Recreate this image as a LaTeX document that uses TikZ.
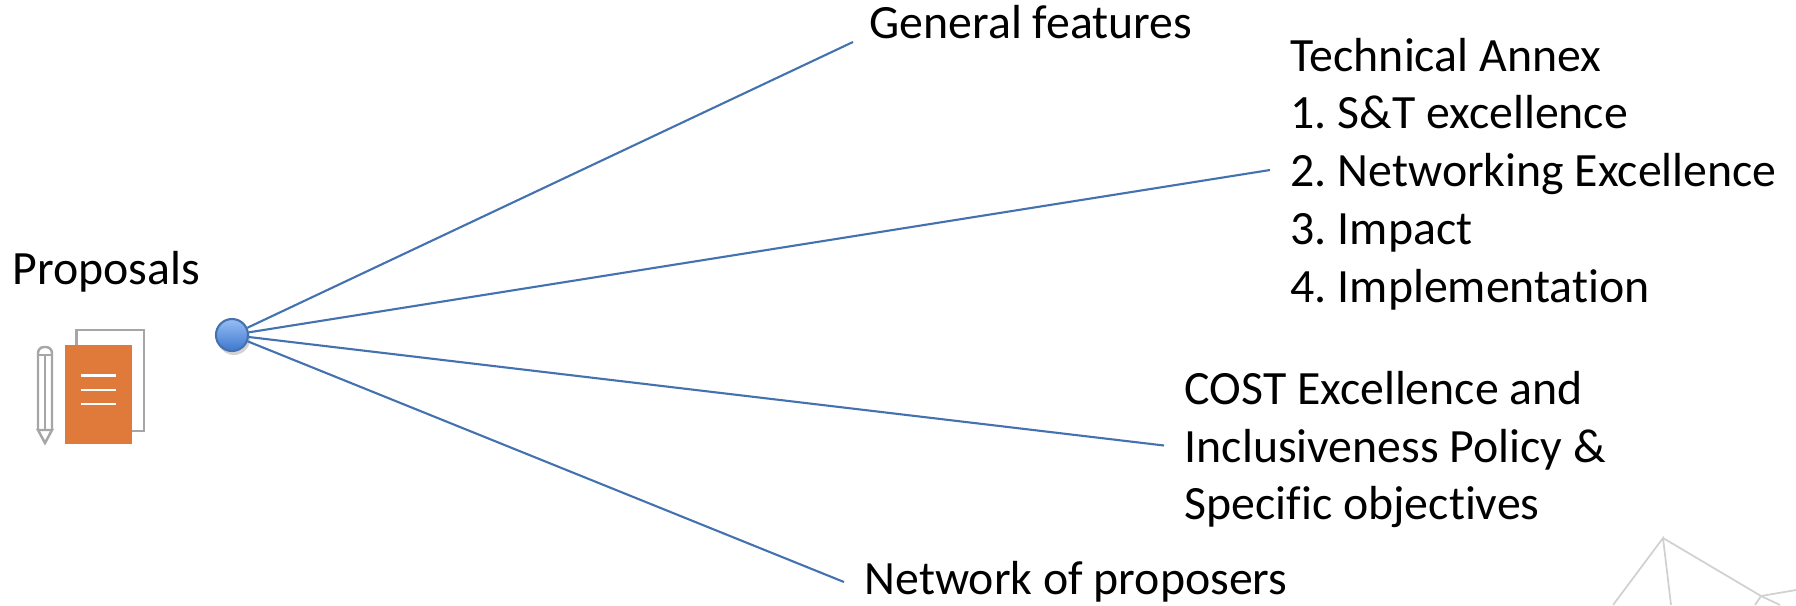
\documentclass[tikz,border=0pt]{standalone}
\usepackage{fontspec}
\setmainfont[Ligatures=NoCommon]{Carlito}
\usetikzlibrary{shadows}
\definecolor{linkBlue}{RGB}{68,114,176}
\definecolor{pageOrange}{RGB}{224,122,58}
\definecolor{hubLight}{RGB}{150,190,245}
\definecolor{hubDark}{RGB}{62,118,205}
\tikzset{every edge/.style={draw,linkBlue,line width=0.6pt}}
\tikzstyle{label}=[anchor=west,inner sep=2mm,align=left,font=\fontsize{13.6}{16.45}\selectfont\frenchspacing]
\tikzstyle{hub}=[circle,draw=linkBlue,line width=0.6pt,top color=hubLight,bottom color=hubDark,inner sep=0pt,minimum size=3.2mm,drop shadow={shadow xshift=0.2mm,shadow yshift=-0.4mm,opacity=0.35}]
\tikzstyle{iconLine}=[draw=black!35,line width=0.7pt]
\tikzstyle{meshLine}=[draw=black!18!white,line width=0.5pt]
\begin{document}
\begin{tikzpicture}
	\useasboundingbox (0,0) rectangle (17.96,6.05);
	% mesh in the corner
	\coordinate (m1) at (16.63,0.67);
	\coordinate (m2) at (16.13,0);
	\coordinate (m3) at (16.71,0);
	\coordinate (m4) at (17.61,0.09);
	\coordinate (m5) at (17.96,0.15);
	\coordinate (m6) at (17.55,0);
	\coordinate (m7) at (17.80,0);
	\draw[meshLine] (m2) -- (m1) -- (m3);
	\draw[meshLine] (m1) -- (m4) -- (m5);
	\draw[meshLine] (m6) -- (m4) -- (m7);
	% proposals icon
	\draw[iconLine] (0.765,2.60) -- (0.765,2.75) -- (1.44,2.75) -- (1.44,1.74) -- (1.32,1.74);
	\fill[pageOrange] (0.65,1.61) rectangle (1.32,2.60);
	\draw[white,line width=0.8pt] (0.81,2.295) -- (1.16,2.295);
	\draw[white,line width=0.8pt] (0.81,2.15) -- (1.16,2.15);
	\draw[white,line width=0.8pt] (0.81,2.01) -- (1.16,2.01);
	\draw[iconLine,rounded corners=0.6mm] (0.38,1.75) -- (0.38,2.58) -- (0.52,2.58) -- (0.52,1.75);
	\draw[iconLine] (0.38,1.75) -- (0.45,1.62) -- (0.52,1.75) -- cycle;
	\draw[iconLine] (0.38,2.50) -- (0.52,2.50);
	\draw[iconLine] (0.45,2.50) -- (0.45,1.75);
	% labels
	\node at (-0.08,3.33) [label] (proposals) {Proposals};
	\node at (2.32,2.70) [hub] (hub) {};
	\node at (8.53,5.825) [label,inner ysep=0.2mm,inner xsep=1.6mm] (general) {General features};
	\node at (12.70,4.31) [label] (annex) {Technical Annex\\1. S\&T excellence\\2. Networking Excellence\\3. Impact\\4. Implementation};
	\node at (11.64,1.555) [label] (cost) {COST Excellence and\\Inclusiveness Policy \&\\Specific objectives};
	\node at (8.44,0.23) [label] (network) {Network of proposers};
	\draw (hub) edge (general.south west);
	\draw (hub) edge ([yshift=0.4mm]annex.west);
	\draw (hub) edge ([yshift=0.4mm]cost.west);
	\draw (hub) edge (network.west);
	\end{tikzpicture}
\end{document}
